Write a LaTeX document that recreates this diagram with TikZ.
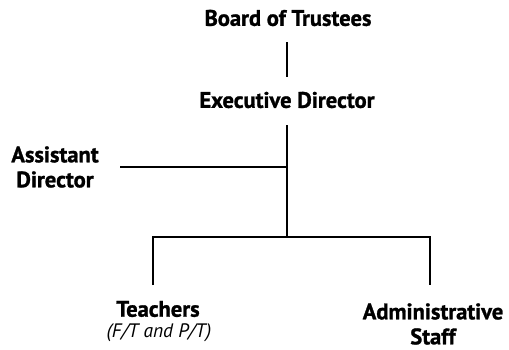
\documentclass[tikz,border=0pt]{standalone}
\usepackage{fontspec}
\setmainfont{PT Sans}[BoldFeatures={FakeBold=1.2}]
\begin{document}
\begin{tikzpicture}[x=1pt,y=-1pt,
  lbl/.style={font=\fontsize{22.5}{25}\selectfont\bfseries, align=center, inner sep=0pt},
  sub/.style={font=\fontsize{19.5}{22}\selectfont\itshape, inner sep=0pt},
  conn/.style={line width=2.6pt}]
\useasboundingbox (0,0) rectangle (509,349);
\node[lbl] (board) at (288,18) {Board of Trustees};
\node[lbl] (exec) at (287,100) {Executive Director};
\node[lbl] (asst) at (55,167) {Assistant\\Director};
\node[lbl] (teach) at (158,309) {Teachers};
\node[sub] (ft) at (159,333) {(F/T and P/T)};
\node[lbl] (admin) at (433,324) {Administrative\\Staff};
\coordinate (b1) at (287,42);
\coordinate (e1) at (287,77);
\coordinate (e2) at (287,125);
\coordinate (j) at (287,237);
\coordinate (aj) at (287,167);
\coordinate (ae) at (120,167);
\coordinate (tl) at (153,237);
\coordinate (tb) at (153,285);
\coordinate (rl) at (430,237);
\coordinate (rb) at (430,285);
\draw[conn] (b1) -- (e1);
\draw[conn] (e2) -- (j);
\draw[conn] (ae) -- (aj);
\draw[conn] (tb) -- (tl) -- (rl) -- (rb);
\end{tikzpicture}
\end{document}
